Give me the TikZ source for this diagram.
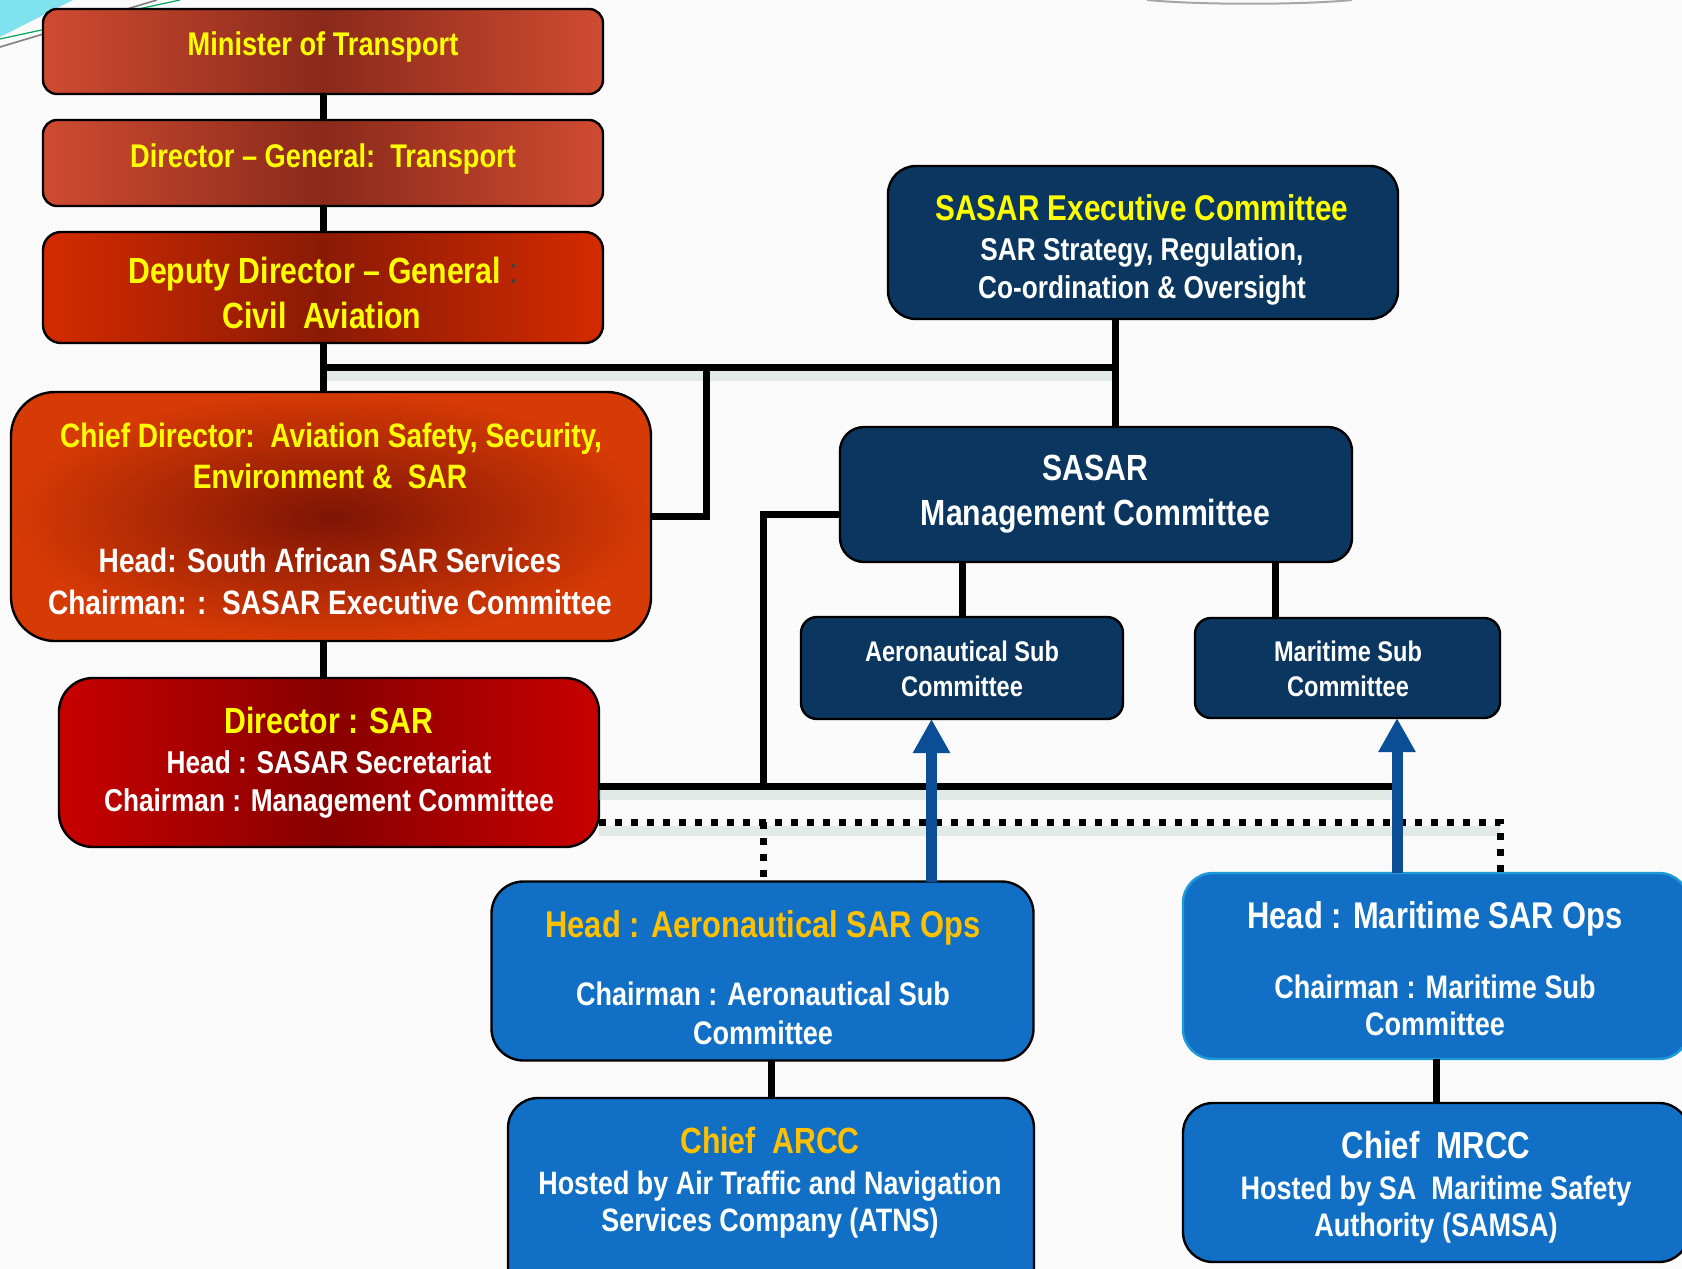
\documentclass[tikz,border=0pt]{standalone}
\usepackage{fontspec}
\newfontfamily\nar{Liberation Sans}[FakeStretch=0.83, Ligatures=TeX]
\usetikzlibrary{arrows.meta}
\definecolor{redA}{HTML}{CF4B31}
\definecolor{redAc}{HTML}{8A2A1B}
\definecolor{redB}{HTML}{D42B00}
\definecolor{redBc}{HTML}{8A1A05}
\definecolor{redC}{HTML}{D63A05}
\definecolor{redCc}{HTML}{7E1405}
\definecolor{redD}{HTML}{C80000}
\definecolor{redDc}{HTML}{880000}
\definecolor{navy}{HTML}{0B365F}
\definecolor{sblue}{HTML}{1170C6}
\definecolor{ablue}{HTML}{0B4E95}
\definecolor{gold}{HTML}{FFC000}
\definecolor{yel}{HTML}{FFFF00}
\definecolor{bgc}{HTML}{FAFAFA}
\definecolor{shadc}{HTML}{A8C6BE}
\definecolor{cyanbg}{HTML}{7FE2EE}
\definecolor{lblue}{HTML}{1E9BD7}
\tikzset{
  box/.style={draw=black, line width=1.2pt, inner sep=0pt, outer sep=0pt},
  conn/.style={line width=3.5pt, black},
  shad/.style={line width=5pt, shadc, opacity=0.3, transform canvas={yshift=-4.5pt}},
  dotconn/.style={line width=3.5pt, black, dash pattern=on 3.5pt off 4.5pt},
  barrow/.style={line width=5.5pt, ablue, -{Triangle[length=17pt, width=17.5pt]}},
  tx/.style={anchor=base, inner sep=0pt, font=\nar\bfseries\fontsize{#1}{#1}\selectfont},
}
\begin{document}
\begin{tikzpicture}[x=0.5pt, y=-0.5pt]
\useasboundingbox (0,0) rectangle (1682,1269);
\fill[bgc] (0,0) rectangle (1682,1269);
\clip (0,0) rectangle (1682,1269);
% slide decoration
\fill[cyanbg] (0,0) -- (73,0) -- (0,37) -- cycle;
\draw[teal!70!green, line width=0.6pt] (0,39) -- (180,0);
\draw[gray, line width=0.8pt] (0,47) -- (157,0);
\draw[gray!70, line width=1pt] (1147,0) .. controls (1200,5) and (1300,5) .. (1352,0);

% boxes
\node[box, rounded corners=7pt, minimum width=280pt, minimum height=42.5pt,
  left color=redA, right color=redA, middle color=redAc] (min) at (323,51.5) {};
\node[box, rounded corners=7pt, minimum width=280pt, minimum height=43pt,
  left color=redA, right color=redA, middle color=redAc] (dg) at (323,163) {};
\node[box, rounded corners=9pt, minimum width=280pt, minimum height=55.5pt,
  left color=redB, right color=redB, middle color=redBc] (ddg) at (323,287.5) {};
\node[box, rounded corners=22pt, minimum width=320pt, minimum height=124.5pt,
  shading=radial, inner color=redCc, outer color=redC] (cd) at (331,516.5) {};
\node[box, rounded corners=17pt, minimum width=270pt, minimum height=84.5pt,
  left color=redD, right color=redD, middle color=redDc] (dsar) at (329,762.5) {};
\node[box, fill=navy, rounded corners=14pt, minimum width=255pt, minimum height=76.5pt] (exec) at (1143,242.5) {};
\node[box, fill=navy, rounded corners=12pt, minimum width=256pt, minimum height=67.5pt] (mgmt) at (1096,494.5) {};
\node[box, fill=navy, rounded corners=8pt, minimum width=161pt, minimum height=51pt] (aero) at (962,668) {};
\node[box, fill=navy, rounded corners=8pt, minimum width=152.5pt, minimum height=50pt] (mar) at (1347.5,668) {};
\node[box, fill=sblue, rounded corners=16pt, minimum width=271pt, minimum height=89.5pt] (hao) at (762.5,971) {};
\node[box, draw=lblue, fill=sblue, rounded corners=15pt, minimum width=253pt, minimum height=93pt] (hmo) at (1436,966) {};
\node[box, fill=sblue, rounded corners=15pt, minimum width=263pt, minimum height=102pt] (arcc) at (771,1200) {};
\node[box, fill=sblue, rounded corners=15pt, minimum width=253pt, minimum height=79.5pt] (mrcc) at (1436,1182.5) {};

% junction coordinates
\coordinate (j1) at (323,367);
\coordinate (j2) at (706,367);
\coordinate (ex) at (1115,319);
\coordinate (m1) at (840,514);
\coordinate (s1) at (763,786);
\coordinate (s2) at (1397,786);
\coordinate (d1) at (763,822);
\coordinate (d2) at (1500,822);
\coordinate (mm) at (1275,618);

% shadows
\draw[shad] (j1) -- (j1 -| ex);
\draw[shad] (dsar.east |- s1) -- (s2);
\draw[shad] (dsar.east |- d1) -- (d2);

% black connectors
\draw[conn] (min.south) -- (dg.north);
\draw[conn] (dg.south) -- (ddg.north);
\draw[conn] (ddg.south) -- (ddg.south |- cd.north);
\draw[conn] (j1) -- (j1 -| ex);
\draw[conn] (ex) -- (ex |- mgmt.north);
\draw[conn] (cd.east |- 0,516) -| (j2);
\draw[conn] (m1) -| (s1);
\draw[conn] (dsar.east |- s1) -- (s2);
\draw[conn] (aero.north) -- (aero.north |- mgmt.south);
\draw[conn] (mm) -- (mm |- mgmt.south);
\draw[conn] (323,0 |- cd.south) -- (323,0 |- dsar.north);
\draw[conn] (arcc.north) -- (arcc.north |- hao.south);
\draw[conn] (hmo.south) -- (mrcc.north);
% dotted
\draw[dotconn] (dsar.east |- d1) -- (d2) -- (d2 |- hmo.north);
\draw[dotconn] (d1) -- (d1 |- hao.north);
% blue arrows
\draw[barrow] (931.5,0 |- hao.north) -- (931.5,0 |- aero.south);
\draw[barrow] (1397,0 |- hmo.north) -- (1397,0 |- mar.south);

% texts
\node[tx=16.4pt, text=yel] (min-t) at (323,55) {Minister of Transport};
\node[tx=16.4pt, text=yel] (dg-t) at (323,167) {Director – General:\ \ Transport};
\node[tx=18.2pt, text=yel] (ddg-t1) at (323,283) {Deputy Director – General {\mdseries\color{darkgray}:}};
\node[tx=18.2pt, text=yel] (ddg-t2) at (322,328) {Civil\ \ Aviation};
\node[tx=16.9pt, text=yel] (cd-t1) at (331,447) {Chief Director:\ \ Aviation Safety, Security,};
\node[tx=16.9pt, text=yel] (cd-t2) at (330,488) {Environment \&\ \ SAR};
\node[tx=16.9pt, text=white] (cd-t3) at (330,572) {Head: South African SAR Services};
\node[tx=16.9pt, text=white] (cd-t4) at (330,614) {Chairman: :\ \ SASAR Executive Committee};
\node[tx=18.2pt, text=yel] (dsar-t1) at (329,733) {Director : SAR};
\node[tx=15.8pt, text=white] (dsar-t2) at (329,773) {Head : SASAR Secretariat};
\node[tx=15.8pt, text=white] (dsar-t3) at (329,811) {Chairman : Management Committee};
\node[tx=17.9pt, text=yel] (exec-t1) at (1142,220) {SASAR Executive Committee};
\node[tx=15.8pt, text=white] (exec-t2) at (1142,260) {SAR Strategy, Regulation,};
\node[tx=15.8pt, text=white] (exec-t3) at (1142,298) {Co-ordination \& Oversight};
\node[tx=18.2pt, text=white] (mgmt-t1) at (1095.5,480) {SASAR};
\node[tx=18.2pt, text=white] (mgmt-t2) at (1095.5,525) {Management Committee};
\node[tx=14.2pt, text=white] (aero-t1) at (962,661) {Aeronautical Sub};
\node[tx=14.2pt, text=white] (aero-t2) at (962,696) {Committee};
\node[tx=14.2pt, text=white] (mar-t1) at (1348,661) {Maritime Sub};
\node[tx=14.2pt, text=white] (mar-t2) at (1348,696) {Committee};
\node[tx=18.6pt, text=gold] (hao-t1) at (763,937) {Head : Aeronautical SAR Ops};
\node[tx=16.3pt, text=white] (hao-t2) at (763,1005) {Chairman : Aeronautical Sub};
\node[tx=16.3pt, text=white] (hao-t3) at (763,1044) {Committee};
\node[tx=18.2pt, text=gold] (arcc-t1) at (770,1153) {Chief\ \ ARCC};
\node[tx=16.2pt, text=white] (arcc-t2) at (770,1194) {Hosted by Air Traffic and Navigation};
\node[tx=16.2pt, text=white] (arcc-t3) at (770,1231) {Services Company (ATNS)};
\node[tx=18.6pt, text=white] (hmo-t1) at (1435,928) {Head : Maritime SAR Ops};
\node[tx=16.3pt, text=white] (hmo-t2) at (1435,998) {Chairman : Maritime Sub};
\node[tx=16.3pt, text=white] (hmo-t3) at (1435,1035) {Committee};
\node[tx=18.8pt, text=white] (mrcc-t1) at (1436,1158) {Chief\ \ MRCC};
\node[tx=16.3pt, text=white] (mrcc-t2) at (1436,1199) {Hosted by SA\ \ Maritime Safety};
\node[tx=16.3pt, text=white] (mrcc-t3) at (1436,1236) {Authority (SAMSA)};
\end{tikzpicture}
\end{document}
